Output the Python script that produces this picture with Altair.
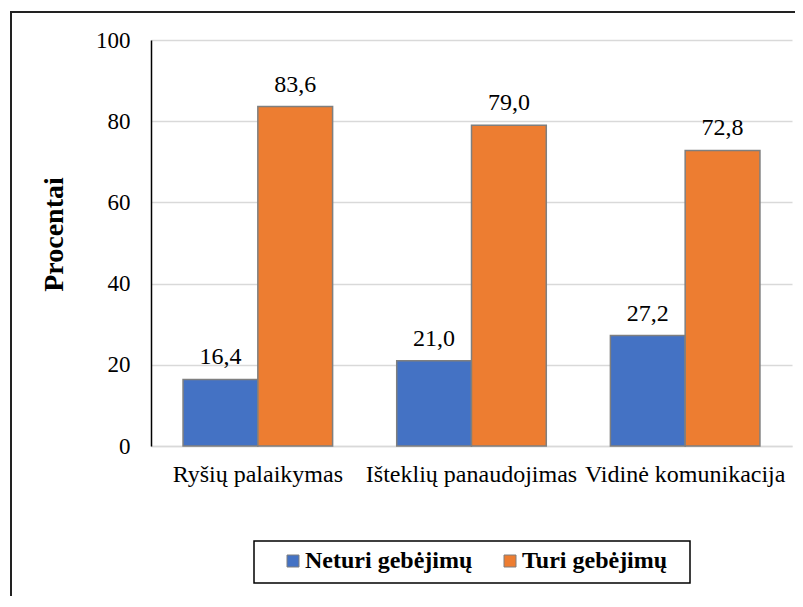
import altair as alt
import pandas as pd

categories = ["Ryšių palaikymas", "Išteklių panaudojimas", "Vidinė komunikacija"]
series = ["Neturi gebėjimų", "Turi gebėjimų"]
neturi = [16.4, 21.0, 27.2]
turi = [83.6, 79.0, 72.8]
colors = ["#4472C4", "#ED7D31"]
y_ticks = [0, 20, 40, 60, 80, 100]

rows = []
for c, a, b in zip(categories, neturi, turi):
    rows.append({"cat": c, "series": series[0], "value": a, "label": f"{a:.1f}".replace(".", ",")})
    rows.append({"cat": c, "series": series[1], "value": b, "label": f"{b:.1f}".replace(".", ",")})
df = pd.DataFrame(rows)

FONT = "Liberation Serif"

x_enc = alt.X("cat:N", sort=categories, title=None,
              scale=alt.Scale(paddingInner=0.3, paddingOuter=0.15),
              axis=alt.Axis(labelAngle=0, labelFontSize=24, labelFont=FONT, labelColor="#000",
                            labelPadding=16, labelLimit=400, ticks=False, labelOverlap=False,
                            domainColor="#d9d9d9", domainWidth=1.5, grid=False))
xo_enc = alt.XOffset("series:N", sort=series, scale=alt.Scale(paddingInner=0, paddingOuter=0))
y_enc = alt.Y("value:Q", title="Procentai",
              scale=alt.Scale(domain=[0, 100], nice=False),
              axis=alt.Axis(values=y_ticks, ticks=False, labelFontSize=23, labelFont=FONT,
                            labelColor="#000", labelPadding=21, domainColor="#000", domainWidth=1.5,
                            gridColor="#d9d9d9", gridWidth=1.5,
                            titleFont=FONT, titleFontSize=28, titleFontWeight="bold", titleColor="#000",
                            titleAngle=270, titleX=-97, titleY=194, titleAlign="center",
                            titleBaseline="middle"))

bars = alt.Chart(df).mark_bar(stroke="#7f7f7f", strokeWidth=1.5).encode(
    x=x_enc, xOffset=xo_enc, y=y_enc,
    color=alt.Color("series:N", sort=series, scale=alt.Scale(domain=series, range=colors),
                    legend=alt.Legend(title=None, orient="none", legendX=130, legendY=509,
                                      direction="horizontal", symbolType="square", symbolSize=144,
                                      symbolStrokeColor="#7f7f7f", symbolStrokeWidth=1,
                                      symbolOpacity=1,
                                      labelFont=FONT, labelFontSize=24, labelFontWeight="bold",
                                      labelColor="#000", labelOffset=0, columnPadding=25,
                                      labelLimit=400, padding=0))
)

texts = alt.Chart(df).mark_text(font=FONT, fontSize=24, color="#000", baseline="alphabetic", dy=-15).encode(
    x=alt.X("cat:N", sort=categories), xOffset=alt.XOffset("series:N", sort=series),
    y="value:Q", text="label:N"
)

box_df = pd.DataFrame({"k": [0]})
legend_box = alt.Chart(box_df).mark_rect(filled=False, stroke="#000", strokeWidth=1.5).encode(
    x=alt.value(103), x2=alt.value(539), y=alt.value(501), y2=alt.value(543)
)
outer = alt.Chart(box_df).mark_rect(filled=False, stroke="#222", strokeWidth=2).encode(
    x=alt.value(-140), x2=alt.value(800), y=alt.value(-28), y2=alt.value(700)
)

chart = alt.layer(outer, bars, texts, legend_box).properties(
    width=641, height=406,
    autosize=alt.AutoSizeParams(type="none"),
    padding={"left": 143, "top": 32, "right": 3, "bottom": 150},
    background="white",
).configure(font=FONT).configure_view(stroke=None)

chart.save("out.html", embed_options={"renderer": "svg", "actions": False})
